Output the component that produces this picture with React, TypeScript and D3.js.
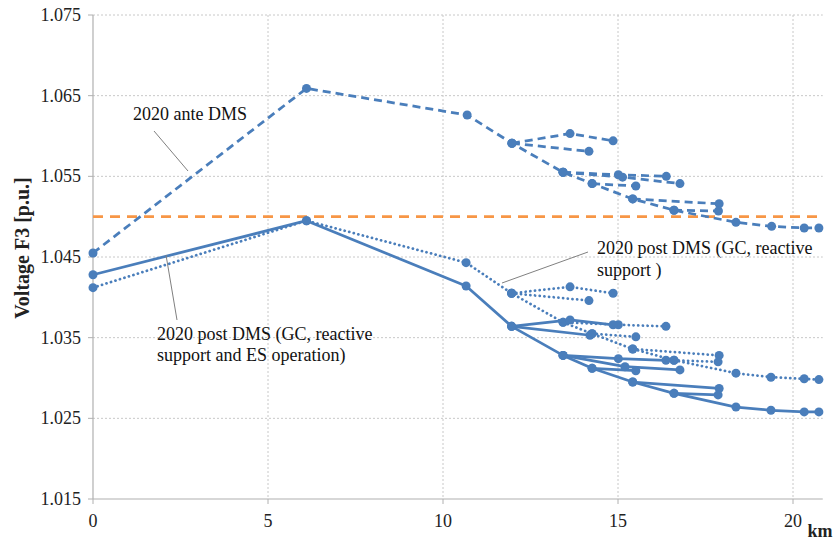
import React from "react";
import * as d3 from "d3";

type Pt = [number, number];

// km positions / voltages (p.u.)
const xTicks = [0, 5, 10, 15, 20];
const yTicks = [1.015, 1.025, 1.035, 1.045, 1.055, 1.065, 1.075];
const limitValue = 1.05;

// 2020 ante DMS (dashed)
const anteTrunk: Pt[] = [[0, 1.0455], [6.1, 1.0659], [10.69, 1.0626], [11.97, 1.0591], [13.43, 1.0555], [14.26, 1.0541], [15.42, 1.0522], [16.6, 1.0508], [18.37, 1.0493], [19.39, 1.0488], [20.32, 1.0486], [20.74, 1.0486]];
const anteBranches: Pt[][] = [
  [[11.97, 1.0591], [13.63, 1.0603], [14.86, 1.0594]],
  [[11.97, 1.0591], [14.17, 1.0581]],
  [[13.43, 1.0555], [15.01, 1.0552], [16.38, 1.055]],
  [[13.43, 1.0555], [15.13, 1.0549], [16.77, 1.0541]],
  [[14.26, 1.0541], [15.51, 1.0538]],
  [[15.42, 1.0522], [17.89, 1.0516]],
  [[16.6, 1.0508], [17.87, 1.0507]],
];

// 2020 post DMS (GC, reactive support) (dotted)
const gcTrunk: Pt[] = [[0, 1.0412], [6.1, 1.0495], [10.66, 1.0443], [11.96, 1.0405], [13.43, 1.0369], [14.26, 1.0355], [15.42, 1.0336], [16.6, 1.0322], [18.37, 1.0306], [19.37, 1.0301], [20.32, 1.0299], [20.74, 1.0298]];
const gcBranches: Pt[][] = [
  [[11.96, 1.0405], [13.63, 1.0413], [14.86, 1.0405]],
  [[11.96, 1.0405], [14.17, 1.0396]],
  [[13.43, 1.0369], [15.01, 1.0366], [16.37, 1.0364]],
  [[14.26, 1.0355], [15.51, 1.0351]],
  [[15.42, 1.0336], [17.89, 1.0328]],
  [[16.6, 1.0322], [17.86, 1.032]],
];

// 2020 post DMS (GC, reactive support and ES operation) (solid)
const esTrunk: Pt[] = [[0, 1.0428], [6.1, 1.0495], [10.66, 1.0414], [11.96, 1.0364], [13.43, 1.0328], [14.26, 1.0312], [15.42, 1.0295], [16.6, 1.0281], [18.37, 1.0264], [19.37, 1.026], [20.32, 1.0258], [20.74, 1.0258]];
const esBranches: Pt[][] = [
  [[11.96, 1.0364], [13.63, 1.0372], [14.86, 1.0366]],
  [[11.96, 1.0364], [14.2, 1.0353]],
  [[13.43, 1.0328], [15.01, 1.0324], [16.37, 1.0322]],
  [[13.43, 1.0328], [15.2, 1.0314], [16.77, 1.031]],
  [[14.26, 1.0312], [15.51, 1.0309]],
  [[15.42, 1.0295], [17.89, 1.0287]],
  [[16.6, 1.0281], [17.86, 1.0279]],
];

const BLUE = "#4a7ebb";
const ORANGE = "#f79646";
const FONT = "'Liberation Serif', 'Times New Roman', serif";

export default function App() {
  const W = 833, H = 541;
  const x = d3.scaleLinear().domain([0, 20.85]).range([93, 93 + 20.85 * 35]);
  const y = d3.scaleLinear().domain([1.015, 1.075]).range([499, 15]);
  const line = d3.line<Pt>().x((d) => x(d[0])).y((d) => y(d[1]));
  const [x0, x1] = x.range();

  const series = [
    { trunk: anteTrunk, branches: anteBranches, dash: "8 5", cap: "butt" },
    { trunk: gcTrunk, branches: gcBranches, dash: "0.1 4.6", cap: "round" },
    { trunk: esTrunk, branches: esBranches, dash: undefined, cap: "round" },
  ];

  return (
    <svg width={W} height={H} style={{ position: "absolute", left: 0, top: 0, background: "#fff" }} fontFamily={FONT}>
      {/* grid */}
      {yTicks.slice(1).map((t) => (
        <line key={"gy" + t} x1={x0} x2={x1} y1={y(t)} y2={y(t)} stroke="#c8c8c8" strokeWidth={1} strokeDasharray="2 2" />
      ))}
      {xTicks.slice(1).map((t) => (
        <line key={"gx" + t} x1={x(t)} x2={x(t)} y1={y(1.075)} y2={y(1.015)} stroke="#c8c8c8" strokeWidth={1} strokeDasharray="2 2" />
      ))}
      {/* axes */}
      <line x1={x0} x2={x0} y1={y(1.075)} y2={y(1.015)} stroke="#b0b0b0" strokeWidth={1.2} />
      <line x1={x0} x2={x1} y1={y(1.015)} y2={y(1.015)} stroke="#b0b0b0" strokeWidth={1.2} />
      {yTicks.map((t) => (
        <g key={"ty" + t}>
          <line x1={x0 - 5} x2={x0} y1={y(t)} y2={y(t)} stroke="#b0b0b0" />
          <text x={81} y={y(t) + 6} textAnchor="end" fontSize={18} fill="#222">{t.toFixed(3)}</text>
        </g>
      ))}
      {xTicks.map((t) => (
        <g key={"tx" + t}>
          <line x1={x(t)} x2={x(t)} y1={y(1.015)} y2={y(1.015) + 5} stroke="#b0b0b0" />
          <text x={x(t)} y={527} textAnchor="middle" fontSize={18} fill="#222">{t}</text>
        </g>
      ))}
      <text x={820} y={537} textAnchor="middle" fontSize={18} fontWeight="bold" fill="#222">km</text>
      <text transform={`translate(29,248) rotate(-90)`} textAnchor="middle" fontSize={20} fontWeight="bold" fill="#222">Voltage F3 [p.u.]</text>

      {/* limit */}
      <line x1={x0} x2={x1 - 2} y1={y(limitValue)} y2={y(limitValue)} stroke={ORANGE} strokeWidth={2.75} strokeDasharray="10 7" />

      {/* series */}
      {series.map((s, i) => (
        <g key={"s" + i}>
          {[s.trunk, ...s.branches].map((p, j) => (
            <path key={j} d={line(p) || ""} fill="none" stroke={BLUE} strokeWidth={2.75} strokeDasharray={s.dash} strokeLinecap={s.cap as any} strokeLinejoin="round" />
          ))}
          {[s.trunk, ...s.branches].flat().map((p, j) => (
            <circle key={"c" + j} cx={x(p[0])} cy={y(p[1])} r={4.5} fill={BLUE} />
          ))}
        </g>
      ))}

      {/* annotations */}
      <line x1={154} y1={131} x2={188} y2={171} stroke="#808080" strokeWidth={1} />
      <text x={133} y={120} fontSize={18} fill="#111">2020 ante DMS</text>

      <line x1={166} y1={255} x2={177} y2={320} stroke="#808080" strokeWidth={1} />
      <text x={157} y={340} fontSize={18} fill="#111">2020 post DMS (GC, reactive</text>
      <text x={157} y={361} fontSize={18} fill="#111">support and ES operation)</text>

      <line x1={502} y1={283} x2={588} y2={252} stroke="#808080" strokeWidth={1} />
      <text x={597} y={254} fontSize={18} fill="#111">2020 post DMS (GC, reactive</text>
      <text x={597} y={276} fontSize={18} fill="#111">support )</text>
    </svg>
  );
}
